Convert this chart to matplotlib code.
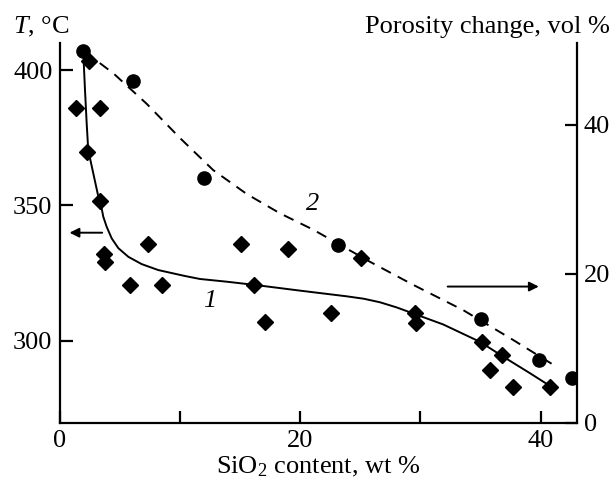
import matplotlib
matplotlib.use("Agg")
import matplotlib.pyplot as plt

plt.rcParams['font.family'] = ['Liberation Serif', 'DejaVu Serif']
plt.rcParams['mathtext.fontset'] = 'custom'
plt.rcParams['mathtext.rm'] = 'Liberation Serif'
plt.rcParams['mathtext.it'] = 'Liberation Serif:italic'

# Temperature data (diamonds, left axis)
t_x = [2.48, 1.40, 3.37, 2.26, 3.37, 3.67, 3.78, 7.38, 5.89, 8.50, 15.11, 18.97,
       16.19, 17.11, 25.06, 22.54, 29.58, 29.66, 35.12, 36.78, 35.76, 37.67, 40.80]
t_y = [403.3, 385.9, 385.9, 369.8, 351.7, 331.9, 329.0, 335.6, 320.6, 320.6, 335.6, 333.9,
       320.6, 307.0, 330.7, 310.2, 310.2, 306.7, 299.7, 294.8, 289.2, 282.8, 282.8]

# Curve 1 (temperature trend)
c1_x = [1.98, 2.12, 2.26, 2.39, 2.81, 3.23, 3.37, 3.64, 3.92, 4.34, 4.89, 5.72, 6.83,
        8.21, 10.43, 11.68, 13.9, 16.25, 19.99, 23.87, 25.3, 26.64, 28.03, 29.69, 31.90,
        34.95, 36.89, 39.11, 40.63]
c1_y = [406.2, 392.6, 380.3, 370.4, 361.8, 353.2, 352.0, 345.8, 342.1, 337.8, 334.2, 331.0,
        328.3, 326.1, 323.9, 322.8, 321.8, 320.6, 318.5, 316.4, 315.5, 314.2, 312.3, 309.6,
        306.0, 299.6, 294.1, 288.0, 283.7]

# Porosity data (circles, right axis)
p_x = [1.98, 6.11, 12.01, 23.13, 35.04, 39.86, 42.58]
p_y = [49.9, 45.9, 32.9, 23.85, 13.96, 8.38, 5.96]

# Curve 2 (porosity trend)
c2_x = [2.12, 4.47, 7.25, 10.02, 12.78, 15.56, 18.33, 21.10, 25.81, 29.41, 33.57, 37.72, 41.33]
c2_y = [49.76, 46.9, 42.8, 38.2, 33.9, 30.7, 28.1, 25.9, 21.6, 18.5, 15.1, 11.1, 7.5]

x_ticks = [0, 10, 20, 30, 40]
x_labels = ['0', '', '20', '', '40']
t_ticks = [300, 350, 400]
p_ticks = [0, 20, 40]

fig = plt.figure(figsize=(6.13, 4.82), dpi=100)
ax = fig.add_axes([59.5/613, 1-422.7/482, (576.7-59.5)/613, (422.7-42.7)/482])
ax2 = ax.twinx()

FS = 19

ax.set_xlim(0, 43)
ax.set_ylim(269.7, 410.1)
ax2.set_ylim(0, 51)

ax.plot(c1_x, c1_y, color='black', lw=1.4, zorder=3, solid_joinstyle='round')
ax.plot(t_x, t_y, linestyle='none', marker='D', color='black', markersize=7.8, zorder=4)
ax2.plot(c2_x, c2_y, color='black', lw=1.4, linestyle=(0, (5.5, 4)), zorder=3)
ax2.plot(p_x, p_y, linestyle='none', marker='o', color='black', markersize=9.5, zorder=4)

for a in (ax, ax2):
    a.spines['top'].set_visible(False)
    for s in a.spines.values():
        s.set_linewidth(1.6)

ax.spines['right'].set_visible(False)
ax2.spines['left'].set_visible(False)
ax2.spines['bottom'].set_visible(False)

ax.set_xticks(x_ticks)
ax.set_xticklabels(x_labels)
ax.set_yticks(t_ticks)
ax2.set_yticks(p_ticks)
ax.tick_params(axis='both', direction='in', length=9, width=1.6, labelsize=FS, pad=5)
ax2.tick_params(axis='y', direction='in', length=9, width=1.6, labelsize=FS, pad=5)

ax.set_xlabel('SiO$_2$ content, wt %', fontsize=FS, labelpad=2)

fig.text(13/613, 1-27/482, '$T$, °C', fontsize=FS, ha='left', va='center')
fig.text(610/613, 1-27/482, 'Porosity change, vol %', fontsize=FS, ha='right', va='center')

ax.text(12.5, 314.7, '1', fontsize=FS, style='italic', ha='center', va='center')
ax.text(21.07, 350.5, '2', fontsize=FS, style='italic', ha='center', va='center')

ax.annotate('', xy=(0.6, 339.9), xytext=(3.78, 339.9),
            arrowprops=dict(arrowstyle='-|>', color='black', lw=1.4, mutation_scale=14))
ax.annotate('', xy=(40.08, 320.0), xytext=(32.04, 320.0),
            arrowprops=dict(arrowstyle='-|>', color='black', lw=1.4, mutation_scale=14))

fig.savefig('out.png', dpi=100)
